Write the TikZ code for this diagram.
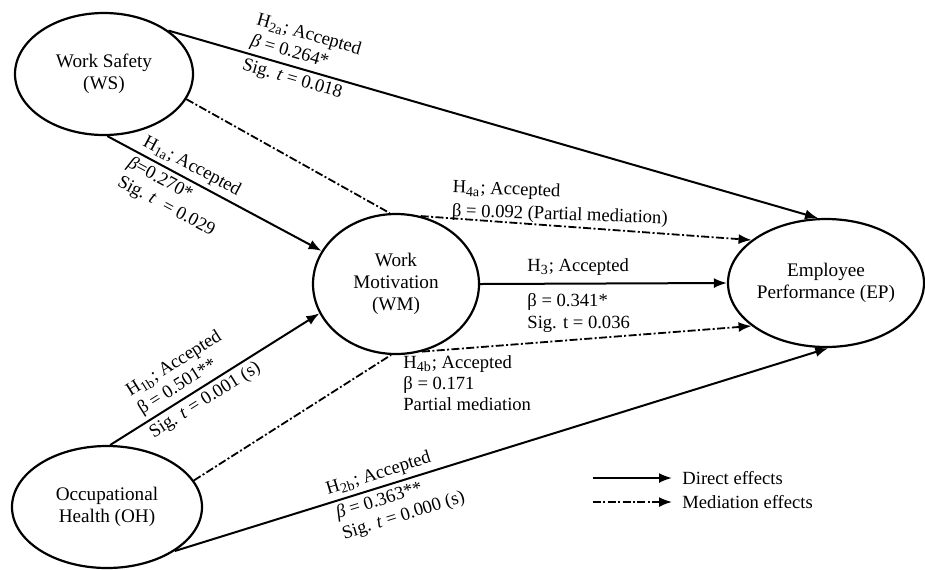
\documentclass[tikz,border=0pt]{standalone}
\usepackage{fontspec}
\setmainfont{Liberation Serif}
\usetikzlibrary{arrows.meta,shapes.geometric}
\tikzset{
  construct/.style={draw, ellipse, line width=1.1pt, inner sep=0pt, align=center,
    font=\fontsize{9.6}{11}\selectfont},
  direct/.style={line width=1pt, -{Latex[length=6.5pt,width=5pt]}},
  mediate/.style={line width=0.9pt, dash pattern=on 4pt off 1.2pt on 1pt off 1.2pt},
  mediatearrow/.style={mediate, -{Latex[length=6.5pt,width=5pt]}},
  lbl/.style={align=left, inner sep=0pt, font=\fontsize{9.3}{10.6}\selectfont},
  uplbl/.style={lbl, sloped, anchor=south west, inner sep=1.8pt},
  downlbl/.style={lbl, sloped, anchor=north west, inner sep=1.8pt},
}
\newcommand{\Hs}[1]{H\textsubscript{\scriptsize #1}}
\begin{document}
\begin{tikzpicture}[x=0.5pt,y=-0.5pt]
\path[use as bounding box] (0,0) rectangle (925,569);

% constructs
\node[construct, minimum width=178pt*0.5, minimum height=122pt*0.5] (WS) at (104,74) {Work Safety\\(WS)};
\node[construct, minimum width=166pt*0.5, minimum height=140pt*0.5] (WM) at (396,284) {Work\\Motivation\\(WM)};
\node[construct, minimum width=196pt*0.5, minimum height=128pt*0.5] (EP) at (826,283) {Employee\\Performance (EP)};
\node[construct, minimum width=190pt*0.5, minimum height=122pt*0.5] (OH) at (107,507) {Occupational\\Health (OH)};

% direct effects with their labels
\draw[direct] (WS.34) -- (EP.97)
  node[uplbl, pos=0.115] (l2a) {\Hs{2a}; Accepted\\\textit{β} = 0.264*}
  node[downlbl, pos=0.113] (l2a2) {Sig. \textit{t} = 0.018};
\draw[direct] (WS.-87) -- (WM.156)
  node[uplbl, pos=0.125] (l1a) {\Hs{1a}; Accepted}
  node[downlbl, pos=0.11] (l1a2) {\textit{β}=0.270*\\Sig. \textit{t}\ \ = 0.029};
\draw[direct] (OH.87) -- (WM.201)
  node[uplbl, pos=0.155] (l1b) {\Hs{1b}; Accepted\\β = 0.501**}
  node[downlbl, pos=0.145] (l1b2) {Sig. \textit{t} = 0.001 (s)};
\draw[direct] (WM.east) -- (EP.west);
\draw[direct] (OH.-33) -- (EP.-88)
  node[uplbl, pos=0.232] (l2b) {\Hs{2b}; Accepted}
  node[downlbl, pos=0.235] (l2b2) {\textit{β} = 0.363**\\Sig. \textit{t} = 0.000 (s)};

% mediation effects
\draw[mediate] (WS.-17) -- (WM.95);
\draw[mediatearrow] (WM.70) -- (EP.150);
\draw[mediate] (OH.17) -- (WM.266);
\draw[mediatearrow] (WM.-69) -- (EP.210);

% horizontal labels
\node[lbl, rotate=-2, anchor=west] (l4a) at (452,200) {\Hs{4a}; Accepted\\[1pt]β = 0.092 (Partial mediation)};
\node[lbl, anchor=west] (l3a) at (527,267) {\Hs{3}; Accepted};
\node[lbl, anchor=west] (l3b) at (527,313) {β = 0.341*\\Sig. t = 0.036};
\node[lbl, anchor=west] (l4b) at (403,383) {\Hs{4b}; Accepted\\β = 0.171\\Partial mediation};

% legend
\coordinate (d1) at (593,478);
\coordinate (d2) at (672,478);
\coordinate (m1) at (593,502);
\coordinate (m2) at (672,502);
\draw[direct] (d1) -- (d2);
\draw[mediatearrow] (m1) -- (m2);
\node[lbl, anchor=west] (dlab) at (682,478) {Direct effects};
\node[lbl, anchor=west] (mlab) at (682,502) {Mediation effects};
\end{tikzpicture}
\end{document}
